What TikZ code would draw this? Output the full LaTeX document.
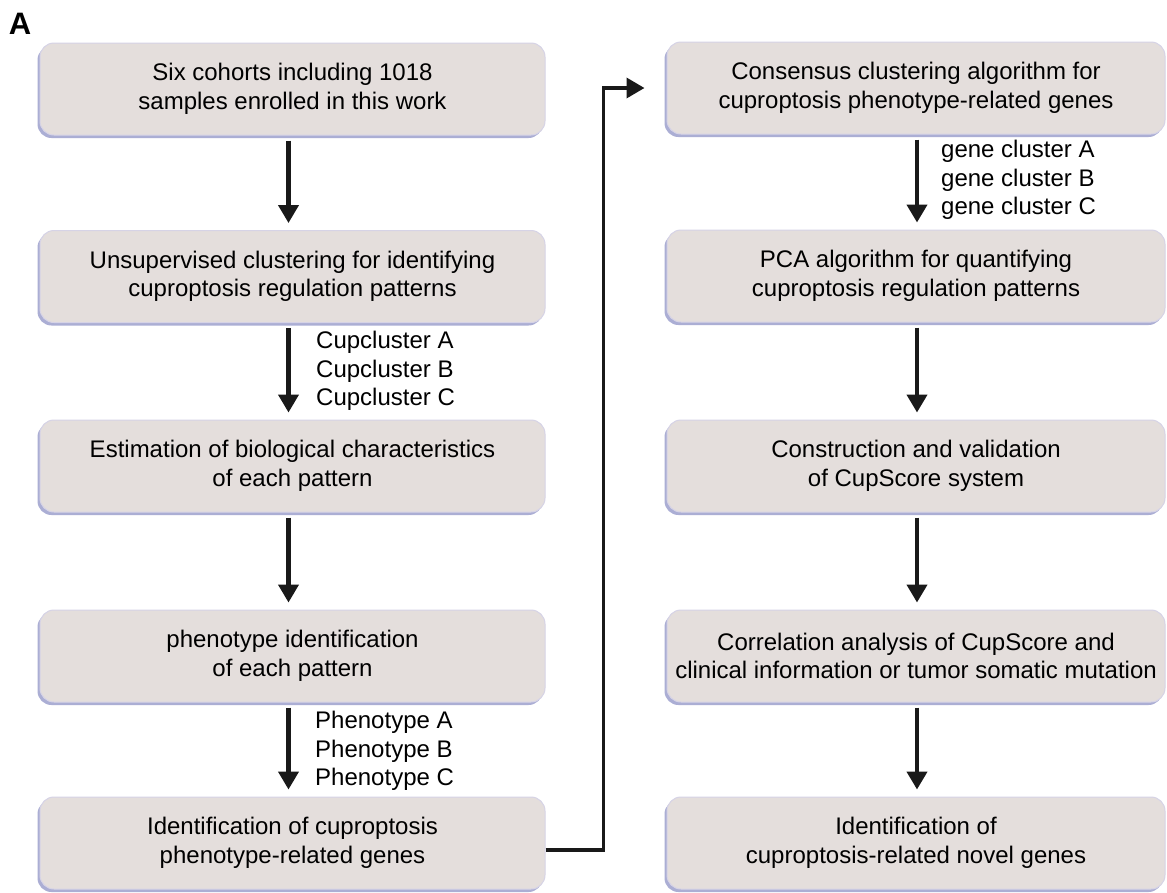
\documentclass[tikz,border=0pt]{standalone}
\usepackage{fontspec}
\setmainfont{Liberation Sans}
\usetikzlibrary{arrows.meta,shadows,calc}
\definecolor{boxfill}{HTML}{E4DEDC}
\definecolor{boxshadow}{HTML}{ABAED4}
\definecolor{boxedge}{HTML}{D6D3E6}
\begin{document}
\begin{tikzpicture}[x=1pt,y=-1pt,
  stepbox/.style={draw=boxedge, line width=1pt, fill=boxfill, rounded corners=14pt,
    minimum height=92pt, align=center, font=\fontsize{24}{28.5}\selectfont, inner sep=0pt,
    drop shadow={shadow xshift=-2.5pt, shadow yshift=-3pt, fill=boxshadow, opacity=1}},
  lbox/.style={stepbox, minimum width=505pt},
  rbox/.style={stepbox, minimum width=498pt},
  flow/.style={line width=4.2pt, color=black!90, -{Triangle[width=20pt,length=18pt]}},
  lab/.style={anchor=west, align=left, font=\fontsize{24}{28.5}\selectfont, inner sep=0pt}]
\fill[white] (0,0) rectangle (1167,892);
\useasboundingbox (0,0) rectangle (1167,892);

\node[inner sep=0pt, font=\fontsize{31}{31}\selectfont\bfseries] (lblA) at (20,24) {A};

\node[lbox] (l1) at (292.5,89) {Six cohorts including 1018\\samples enrolled in this work};
\node[lbox] (l2) at (292.5,276.5) {Unsupervised clustering for identifying\\cuproptosis regulation patterns};
\node[lbox] (l3) at (292.5,466) {Estimation of biological characteristics\\of each pattern};
\node[lbox] (l4) at (292.5,656) {phenotype identification\\of each pattern};
\node[lbox] (l5) at (292.5,843) {Identification of cuproptosis\\phenotype-related genes};

\node[rbox] (r1) at (916,88) {Consensus clustering algorithm for\\cuproptosis phenotype-related genes};
\node[rbox] (r2) at (916,276) {PCA algorithm for quantifying\\cuproptosis regulation patterns};
\node[rbox] (r3) at (916,466) {Construction and validation\\of CupScore system};
\node[rbox] (r4) at (916,656) {Correlation analysis of CupScore and\\clinical information or tumor somatic mutation};
\node[rbox] (r5) at (916,843) {Identification of\\cuproptosis-related novel genes};

\foreach \a/\b in {l1/l2,l2/l3,l3/l4,l4/l5}
  \draw[flow, shorten <=5pt, shorten >=7pt] ([xshift=-4pt]\a.south) -- ([xshift=-4pt]\b.north);
\foreach \a/\b in {r1/r2,r2/r3,r3/r4,r4/r5}
  \draw[flow, shorten <=5pt, shorten >=7pt] ([xshift=1pt]\a.south) -- ([xshift=1pt]\b.north);

\draw[flow, line width=3.6pt, shorten >=22pt] ([yshift=-7pt]l5.east) -- ++(58,0) |- (r1.west);

\node[lab] (c1) at (316,371) {Cupcluster A\\Cupcluster B\\Cupcluster C};
\node[lab] (p1) at (315,751) {Phenotype A\\Phenotype B\\Phenotype C};
\node[lab] (g1) at (941,180) {gene cluster A\\gene cluster B\\gene cluster C};
\end{tikzpicture}
\end{document}
